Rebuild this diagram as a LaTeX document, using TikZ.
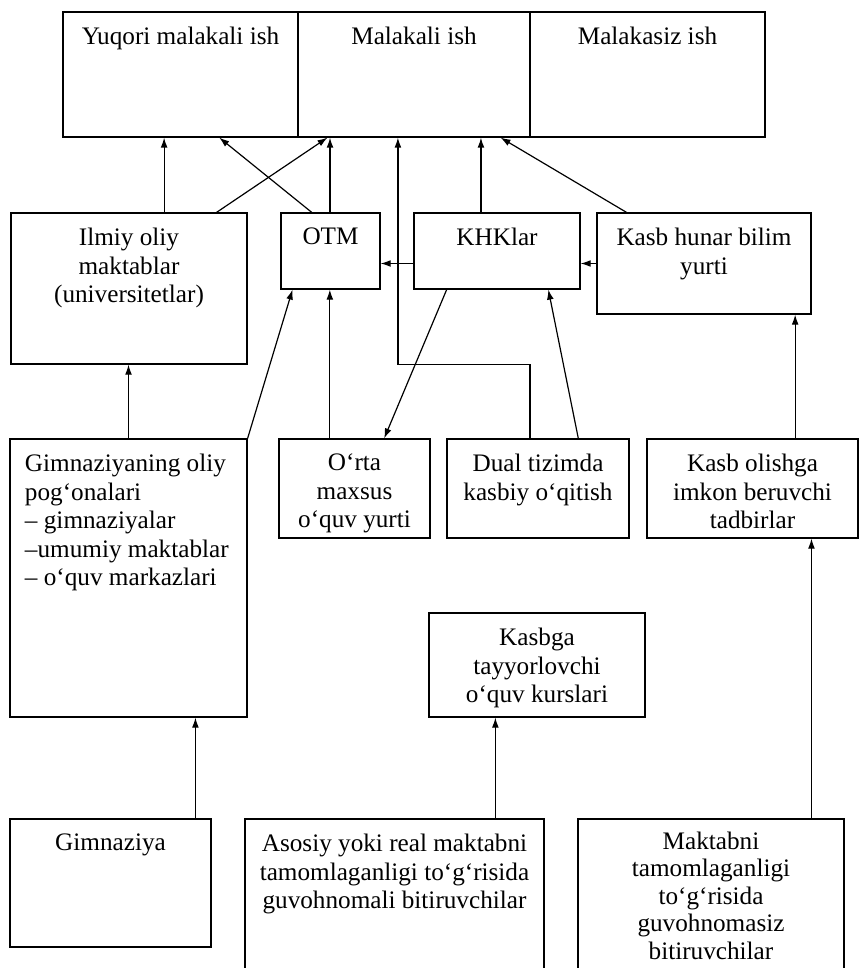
\documentclass[tikz,border=0pt]{standalone}
\usepackage{fontspec}
\setmainfont{Liberation Serif}
\usetikzlibrary{arrows.meta,calc,fit,positioning}
\begin{document}
\begin{tikzpicture}[x = 0.5pt,
                    y = -0.5pt,
                    line width = 0.6pt]
% styles
\tikzset{box/.style={draw,inner sep=0pt,fit={#1}},
         txt/.style={align=center,inner sep=0pt,font=\fontsize{12.6}{14.3}\selectfont},
         arr/.style={-{Latex[length=5pt,width=3.4pt]}}}
\useasboundingbox (0,0) rectangle (859,968);

%top row
\node[box={(63,12) (298,137)}] (yuqori) {};
\node[box={(298,12) (530,137)}] (malakali) {};
\node[box={(530,12) (765,137)}] (malakasiz) {};
\node[txt, below=7.5pt of yuqori.north] (tyuqori) {Yuqori malakali ish};
\node[txt, below=7.5pt of malakali.north] (tmalakali) {Malakali ish};
\node[txt, below=7.5pt of malakasiz.north] (tmalakasiz) {Malakasiz ish};

%middle row
\node[box={(11,213) (247,364)}] (ilmiy) {};
\node[box={(281,213) (380,289)}] (otm) {};
\node[box={(414,213) (580,289)}] (khk) {};
\node[box={(597,213) (811,314)}] (kasbhunar) {};
\node[txt, below=7.5pt of ilmiy.north] (tilmiy) {Ilmiy oliy\\maktablar\\(universitetlar)};
\node[txt, below=7.5pt of otm.north] (totm) {OTM};
\node[txt, below=7.5pt of khk.north] (tkhk) {KHKlar};
\node[txt, below=7.5pt of kasbhunar.north] (tkasbhunar) {Kasb hunar bilim\\yurti};

%third row
\node[box={(10,439) (247,717)}] (gimoliy) {};
\node[box={(279,439) (430,538)}] (orta) {};
\node[box={(447,439) (629,538)}] (dual) {};
\node[box={(647,439) (858,538)}] (kasbolish) {};
\node[box={(429,613) (645,717)}] (kasbga) {};
\node[txt, align=left, below right=7.5pt and 7.5pt of gimoliy.north west] (tgimoliy)
  {Gimnaziyaning oliy\\pog‘onalari\\– gimnaziyalar\\–umumiy maktablar\\– o‘quv markazlari};
\node[txt, below=7.5pt of orta.north] (torta) {O‘rta\\maxsus\\o‘quv yurti};
\node[txt, below=7.5pt of dual.north] (tdual) {Dual tizimda\\kasbiy o‘qitish};
\node[txt, below=7.5pt of kasbolish.north] (tkasbolish) {Kasb olishga\\imkon beruvchi\\tadbirlar};
\node[txt, below=7.5pt of kasbga.north] (tkasbga) {Kasbga\\tayyorlovchi\\o‘quv kurslari};

%bottom row
\node[box={(10,819) (211,947)}] (gimn) {};
\node[box={(245,819) (544,1000)}] (asosiy) {};
\node[box={(578,819) (844,1000)}] (maktab) {};
\node[txt, below=7.5pt of gimn.north] (tgimn) {Gimnaziya};
\node[txt, below=7.5pt of asosiy.north] (tasosiy)
  {Asosiy yoki real maktabni\\tamomlaganligi to‘g‘risida\\guvohnomali bitiruvchilar};
\node[txt, font=\fontsize{12.6}{13.7}\selectfont, below=6.5pt of maktab.north] (tmaktab)
  {Maktabni\\tamomlaganligi\\to‘g‘risida\\guvohnomasiz\\bitiruvchilar};

%arrows to the top row
\draw[arr] ($(ilmiy.north west)!.648!(ilmiy.north east)$) coordinate (p) -- (p |- yuqori.south);
\draw[arr] ($(otm.north west)!.313!(otm.north east)$) -- ($(yuqori.south west)!.664!(yuqori.south east)$);
\draw[arr] ($(ilmiy.north west)!.869!(ilmiy.north east)$) -- ($(malakali.south west)!.129!(malakali.south east)$);
\draw[arr] ($(otm.north west)!.495!(otm.north east)$) coordinate (p) -- (p |- malakali.south);
\draw[arr] ($(dual.north west)!.456!(dual.north east)$) coordinate (p) -- (p |- ilmiy.south)
  -| ($(malakali.south west)!.431!(malakali.south east)$);
\draw[arr] ($(khk.north west)!.404!(khk.north east)$) coordinate (p) -- (p |- malakali.south);
\draw[arr] ($(kasbhunar.north west)!.14!(kasbhunar.north east)$) -- ($(malakali.south west)!.871!(malakali.south east)$);

%arrows inside the middle row
\draw[arr] (kasbhunar.west) -- (kasbhunar.west -| khk.east);
\draw[arr] (kasbhunar.west -| khk.west) -- (kasbhunar.west -| otm.east);

%arrows from the third row
\draw[arr] (gimoliy.north) -- (gimoliy.north |- ilmiy.south);
\draw[arr] (gimoliy.north east) -- ($(otm.south west)!.121!(otm.south east)$);
\draw[arr] ($(orta.north west)!.338!(orta.north east)$) coordinate (p) -- (p |- otm.south);
\draw[arr] ($(khk.south west)!.199!(khk.south east)$) -- ($(orta.north west)!.695!(orta.north east)$);
\draw[arr] ($(dual.north west)!.72!(dual.north east)$) -- ($(khk.south west)!.807!(khk.south east)$);
\draw[arr] ($(kasbolish.north west)!.701!(kasbolish.north east)$) coordinate (p) -- (p |- kasbhunar.south);

%arrows from the bottom row
\draw[arr] ($(gimn.north west)!.92!(gimn.north east)$) coordinate (p) -- (p |- gimoliy.south);
\draw[arr] ($(asosiy.north west)!.836!(asosiy.north east)$) coordinate (p) -- (p |- kasbga.south);
\draw[arr] ($(maktab.north west)!.876!(maktab.north east)$) coordinate (p) -- (p |- kasbolish.south);
\end{tikzpicture}
\end{document}
